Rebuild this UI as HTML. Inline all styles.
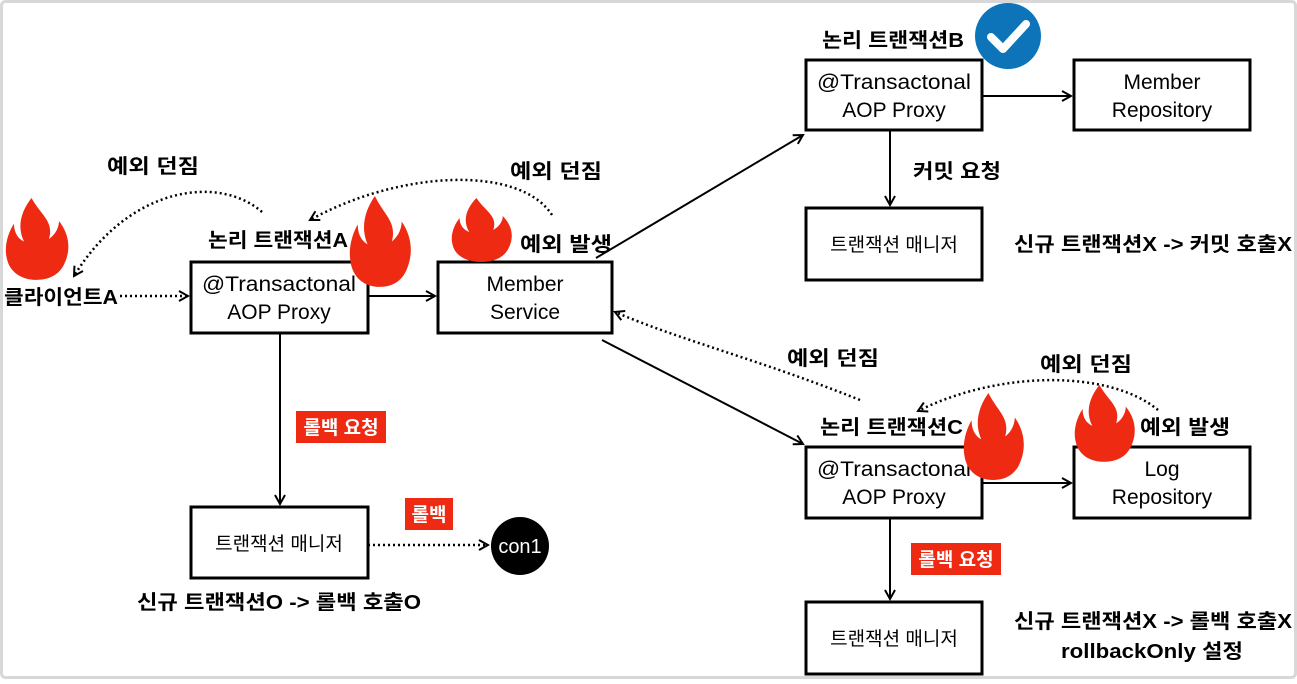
<!DOCTYPE html>
<html><head><meta charset="utf-8"><style>
body{margin:0;background:#fff;}
svg text{font-family:"Liberation Sans","Noto Sans CJK KR",sans-serif;}
</style></head><body>
<svg width="1297" height="679" viewBox="0 0 1297 679" xmlns="http://www.w3.org/2000/svg">
<defs>
<marker id="ar" markerWidth="12" markerHeight="12" refX="10" refY="6" orient="auto" markerUnits="userSpaceOnUse"><path d="M1,1 L10,6 L1,11" fill="none" stroke="#000" stroke-width="2"/></marker>
<g id="fl"><path d="M22,0 C30,14 40,18 36,32 C42,28 44,22 44,18 C52,28 54,40 48,52 C44,60 36,64 26,64 C14,64 4,58 2,46 C0,36 4,26 8,20 C8,28 12,32 16,34 C10,22 14,10 22,0 Z" fill="#ee2a12"/></g>
</defs>
<rect x="1.5" y="1.5" width="1294" height="676" fill="#fff" stroke="#d8d8d8" stroke-width="3" rx="4"/>
<g fill="#fff" stroke="#000" stroke-width="3">
<rect x="191" y="262" width="177" height="71"/>
<rect x="438" y="262" width="174" height="71"/>
<rect x="806" y="60" width="176" height="70"/>
<rect x="1074" y="60" width="176" height="70"/>
<rect x="806" y="208" width="176" height="72"/>
<rect x="806" y="447" width="176" height="71"/>
<rect x="1074" y="447" width="176" height="71"/>
<rect x="806" y="602" width="176" height="72"/>
<rect x="191" y="507" width="177" height="71"/>
</g>
<circle cx="520" cy="546" r="29" fill="#000"/>
<text x="520" y="553" font-size="20" fill="#fff" text-anchor="middle">con1</text>
<g stroke="#000" stroke-width="2" fill="none" marker-end="url(#ar)">
<line x1="368" y1="296" x2="435" y2="296"/>
<line x1="280" y1="333" x2="280" y2="504"/>
<line x1="596" y1="258" x2="803" y2="135"/>
<line x1="602" y1="340" x2="803" y2="444"/>
<line x1="982" y1="96" x2="1071" y2="96"/>
<line x1="890" y1="130" x2="890" y2="205"/>
<line x1="982" y1="483" x2="1071" y2="483"/>
<line x1="890" y1="518" x2="890" y2="599"/>
</g>
<g stroke="#000" stroke-width="2.5" fill="none" stroke-dasharray="2 3" marker-end="url(#ar)">
<line x1="120" y1="296" x2="188" y2="296"/>
<line x1="368" y1="545" x2="488" y2="545"/>
<path d="M262,212 C220,175 130,185 74,276"/>
<path d="M552,215 C520,165 400,170 310,220"/>
<path d="M860,400 C760,360 680,340 615,312"/>
<path d="M1158,410 C1110,370 1000,370 918,411"/>
</g>
<g font-size="21" text-anchor="middle" fill="#000">
<text x="279" y="291" textLength="154" lengthAdjust="spacingAndGlyphs">@Transactonal</text><text x="279" y="319">AOP Proxy</text>
<text x="525" y="291">Member</text><text x="525" y="319">Service</text>
<text x="894" y="89" textLength="154" lengthAdjust="spacingAndGlyphs">@Transactonal</text><text x="894" y="117">AOP Proxy</text>
<text x="1162" y="89">Member</text><text x="1162" y="117">Repository</text>
<text x="894" y="476" textLength="154" lengthAdjust="spacingAndGlyphs">@Transactonal</text><text x="894" y="504">AOP Proxy</text>
<text x="1162" y="476">Log</text><text x="1162" y="504">Repository</text>
<text x="894" y="251" font-size="19">트랜잭션 매니저</text>
<text x="894" y="645" font-size="19">트랜잭션 매니저</text>
<text x="279" y="550" font-size="19">트랜잭션 매니저</text>
</g>
<use href="#fl" transform="translate(4,198) scale(1.25,1.28)"/>
<use href="#fl" transform="translate(348,196) scale(1.22,1.42)"/>
<use href="#fl" transform="translate(450,198) scale(1.2,1.0)"/>
<use href="#fl" transform="translate(962,393) scale(1.2,1.36)"/>
<use href="#fl" transform="translate(1073,385) scale(1.2,1.2)"/>
<g font-size="20" font-weight="bold" fill="#000" lengthAdjust="spacingAndGlyphs">
<text x="208" y="247" textLength="140" lengthAdjust="spacingAndGlyphs">논리 트랜잭션A</text>
<text x="822" y="47" textLength="142" lengthAdjust="spacingAndGlyphs">논리 트랜잭션B</text>
<text x="820" y="434" textLength="143" lengthAdjust="spacingAndGlyphs">논리 트랜잭션C</text>
<text x="4" y="304" textLength="114" lengthAdjust="spacingAndGlyphs">클라이언트A</text>
<text x="107" y="173" textLength="92" lengthAdjust="spacingAndGlyphs">예외 던짐</text>
<text x="510" y="178" textLength="92" lengthAdjust="spacingAndGlyphs">예외 던짐</text>
<text x="520" y="251" textLength="92" lengthAdjust="spacingAndGlyphs">예외 발생</text>
<text x="913" y="178" textLength="88" lengthAdjust="spacingAndGlyphs">커밋 요청</text>
<text x="1014" y="251" textLength="278" lengthAdjust="spacingAndGlyphs">신규 트랜잭션X -&gt; 커밋 호출X</text>
<text x="787" y="365" textLength="92" lengthAdjust="spacingAndGlyphs">예외 던짐</text>
<text x="1040" y="371" textLength="92" lengthAdjust="spacingAndGlyphs">예외 던짐</text>
<text x="1140" y="434" textLength="90" lengthAdjust="spacingAndGlyphs">예외 발생</text>
<text x="137" y="609" textLength="284" lengthAdjust="spacingAndGlyphs">신규 트랜잭션O -&gt; 롤백 호출O</text>
<text x="1014" y="628" textLength="278" lengthAdjust="spacingAndGlyphs">신규 트랜잭션X -&gt; 롤백 호출X</text>
<text x="1061" y="658" textLength="182" lengthAdjust="spacingAndGlyphs">rollbackOnly 설정</text>
</g>
<rect x="296" y="411" width="90" height="32" fill="#ee2a12"/>
<text x="341" y="434" font-size="19" fill="#fff" text-anchor="middle" font-weight="bold">롤백 요청</text>
<rect x="405" y="498" width="48" height="32" fill="#ee2a12"/>
<text x="429" y="521" font-size="19" fill="#fff" text-anchor="middle" font-weight="bold">롤백</text>
<rect x="911" y="543" width="90" height="32" fill="#ee2a12"/>
<text x="956" y="566" font-size="19" fill="#fff" text-anchor="middle" font-weight="bold">롤백 요청</text>
<circle cx="1008" cy="36" r="33" fill="#0d74ba"/>
<path d="M991,37 L1003,49 L1026,24" fill="none" stroke="#fff" stroke-width="8" stroke-linecap="round" stroke-linejoin="round"/>
</svg>
</body></html>
